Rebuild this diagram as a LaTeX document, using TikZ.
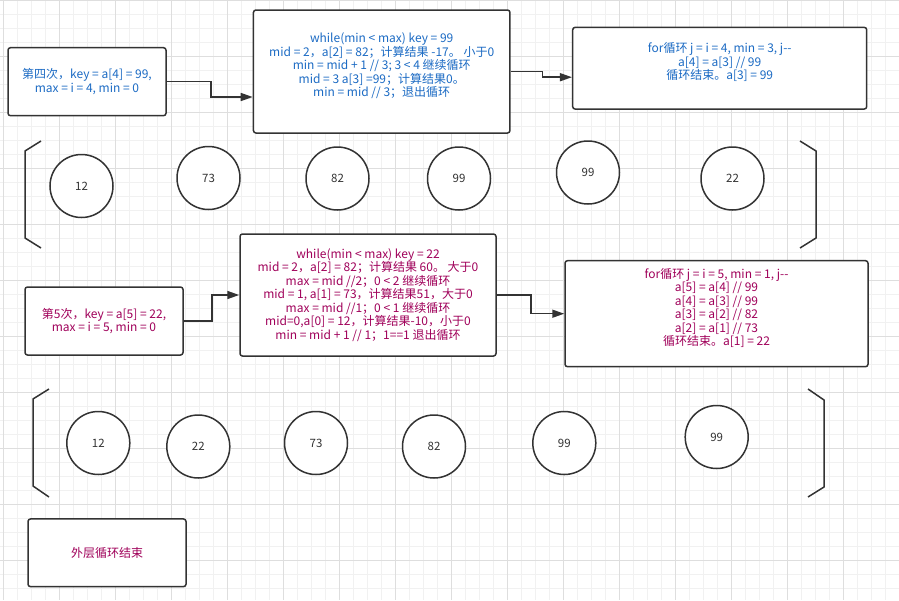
\documentclass[tikz,border=0pt]{standalone}
\usepackage{fontspec}
\setmainfont{Noto Sans CJK SC}
\usepackage{xcolor}
\usepackage{tikz}
\usetikzlibrary{positioning,arrows.meta}
\definecolor{lanse}{HTML}{1C6BC4}
\definecolor{yanghong}{HTML}{A0005A}
\definecolor{bianxian}{HTML}{333333}
\definecolor{gexian}{HTML}{F1F1F1}
\definecolor{gexianzhu}{HTML}{DEDEDE}
\tikzset{
  kuang/.style={draw=bianxian, line width=1.5pt, rounded corners=2.5pt, fill=white,
    align=center, inner sep=0pt, font=\fontsize{12}{13.5}\selectfont},
  yuan/.style={draw=bianxian, line width=1.5pt, circle, minimum size=63pt, inner sep=0pt,
    fill=white, text=bianxian, font=\fontsize{11.5}{13}\selectfont},
  jiantou/.style={draw=bianxian, line width=1.5pt, -{Triangle[length=12pt,width=8pt]}},
  kuohao/.style={draw=bianxian, line width=1.5pt},
}

\begin{document}
\begin{tikzpicture}[x=1pt,y=-1pt]
            \useasboundingbox (0,0) rectangle (899,600);
            \fill[white] (0,0) rectangle (899,600);
            %绘制背景网格
            \foreach \x in {3,17,...,899}{\draw[gexian,line width=0.8pt] (\x,0) -- (\x,600);}
            \foreach \y in {0,14,...,600}{\draw[gexian,line width=0.8pt] (0,\y) -- (899,\y);}
            \foreach \x in {3,59,...,899}{\draw[gexianzhu,line width=0.8pt] (\x,0) -- (\x,600);}
            \foreach \y in {0,56,...,600}{\draw[gexianzhu,line width=0.8pt] (0,\y) -- (899,\y);}
            %第四次插入
            \node[kuang, text=lanse, minimum width=158, minimum height=68] (A) at (87,81.7)
              {第四次，key = a[4] = 99,\\ max = i = 4, min = 0};
            \node[kuang, text=lanse, minimum width=256.5, minimum height=123] (B) at (381.7,71.5)
              {while(min < max) key = 99\\ mid = 2，a[2] = 82；计算结果 -17。 小于0\\
               min = mid + 1 // 3; 3 < 4 继续循环\\ mid = 3 a[3] =99；计算结果0。\\
               min = mid // 3；退出循环\\ \mbox{}};
            \node[kuang, text=lanse, minimum width=294, minimum height=81.7] (C) at (719.7,68.2)
              {for循环 j = i = 4, min = 3, j-{}-\\ a[4] = a[3] // 99\\ 循环结束。a[3] = 99\\ \mbox{}};
            \draw[jiantou] (A.east) -- ++(44,0) |- ([yshift=-25.5pt]B.west);
            \draw[jiantou] (B.east) -- ++(32,0) |- ([yshift=-9pt]C.west);
            %第四次之后的数组
            \draw[kuohao] (41,141) -- (25,151) -- (25,238) -- (41,248);
            \draw[kuohao] (800,141) -- (816,151) -- (816,238) -- (800,248);
            \node[yuan] (a1) at (81.5,186) {12};
            \node[yuan] (a2) at (208.5,178) {73};
            \node[yuan] (a3) at (337.5,178.5) {82};
            \node[yuan] (a4) at (459,178.5) {99};
            \node[yuan] (a5) at (588,172.5) {99};
            \node[yuan] (a6) at (732.5,178.5) {22};
            %第5次插入
            \node[kuang, text=yanghong, minimum width=158, minimum height=68] (D) at (104,321)
              {第5次，key = a[5] = 22,\\ max = i = 5, min = 0};
            \node[kuang, text=yanghong, minimum width=256, minimum height=122] (E) at (368,295)
              {while(min < max) key = 22\\ mid = 2，a[2] = 82；计算结果 60。 大于0\\
               max = mid //2；0 < 2 继续循环\\ mid = 1, a[1] = 73，计算结果51，大于0\\
               max = mid //1；0 < 1 继续循环\\ mid=0,a[0] = 12，计算结果-10，小于0\\
               min = mid + 1 // 1；1==1 退出循环};
            \node[kuang, text=yanghong, minimum width=303, minimum height=106] (F) at (716.5,313.7)
              {for循环 j = i = 5, min = 1, j-{}-\\ a[5] = a[4] // 99\\ a[4] = a[3] // 99\\
               a[3] = a[2] // 82\\ a[2] = a[1] // 73\\ 循环结束。a[1] = 22\\ \mbox{}};
            \draw[jiantou] (D.east) -- ++(28,0) |- (E.west);
            \draw[jiantou] (E.east) -- ++(34,0) |- (F.west);
            %第5次之后的数组
            \draw[kuohao] (49,389) -- (33,399) -- (33,486) -- (49,497);
            \draw[kuohao] (808,389) -- (824,400) -- (824,487) -- (808,497);
            \node[yuan] (b1) at (98.3,443) {12};
            \node[yuan] (b2) at (198.3,446.5) {22};
            \node[yuan] (b3) at (316,443) {73};
            \node[yuan] (b4) at (434,446.5) {82};
            \node[yuan] (b5) at (564.3,443) {99};
            \node[yuan] (b6) at (716.7,437) {99};
            %结束
            \node[kuang, text=yanghong, minimum width=158, minimum height=67.7] (G) at (107,552.8)
              {外层循环结束};
        \end{tikzpicture}
\end{document}
